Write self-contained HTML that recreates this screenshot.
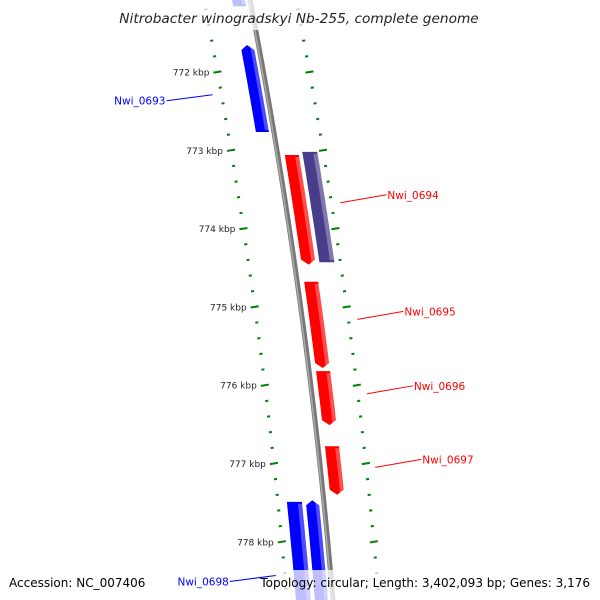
<!DOCTYPE html>
<html><head><meta charset="utf-8">
<style>
html,body{margin:0;padding:0;background:#fff;}
svg{display:block;font-family:"DejaVu Sans","Liberation Sans",sans-serif;}
</style></head>
<body>
<svg id="map" width="600" height="600" viewBox="0 0 600 600" xmlns="http://www.w3.org/2000/svg">
<g id="ticks"></g>
<g id="backbone"></g>
<g id="features"></g>
<rect x="0" y="0" width="600" height="30" fill="#fff" fill-opacity="0.75"/>
<text x="299" y="23" text-anchor="middle" font-size="13.7" font-style="italic" fill="#222">Nitrobacter winogradskyi Nb-255, complete genome</text>
<rect x="0" y="570" width="600" height="30" fill="#fff" fill-opacity="0.75"/>
<text x="9" y="587" font-size="12" fill="#000">Accession: NC_007406</text>
<text x="590" y="587" text-anchor="end" font-size="12" fill="#000">Topology: circular; Length: 3,402,093 bp; Genes: 3,176</text>
<g id="labels"></g>
</svg>
<script>
const featNames = ["top-gene","Nwi_0693","Nwi_0694a","Nwi_0694","Nwi_0695","Nwi_0696","Nwi_0697","Nwi_0698a","Nwi_0698"];
const featStart = [770.8,771.655,773.06,773.02,774.68,775.82,776.78,777.49,777.47];
const featEnd   = [771.16,772.766,774.46,774.43,775.78,776.51,777.40,778.95,778.95];
const featStrand= [-1,-1,1,1,1,1,1,-1,-1];
const featLane  = [1,1,1,2,1,1,1,2,1];
const featColor = ["#0000ff","#0000ff","#ff0000","#483d8b","#ff0000","#ff0000","#ff0000","#0000ff","#0000ff"];
const featArrow = ["none","up","down","none","down","down","down","none","up"];
const labelNames = ["Nwi_0693","Nwi_0694","Nwi_0695","Nwi_0696","Nwi_0697","Nwi_0698"];
const labelKbp   = [772.29,773.67,775.16,776.11,777.05,778.43];
const labelSide  = [-1,1,1,1,1,-1];
const labelColor = ["#0000ff","#ff0000","#ff0000","#ff0000","#ff0000","#0000ff"];
const majorTicks = [772,773,774,775,776,777,778];

const NS="http://www.w3.org/2000/svg";
function yOf(k){return 72+(k-772)*78.3;}
function bx(y){return 250+0.1934*y-0.000092*y*y;}
function mk(tag,attrs,parent){const e=document.createElementNS(NS,tag);for(const k in attrs)e.setAttribute(k,attrs[k]);parent.appendChild(e);return e;}

const bb=document.getElementById('backbone');
let d="";for(let y=-5;y<=605;y+=5){d+=(y===-5?"M":"L")+(bx(y)).toFixed(2)+","+y;}
const b1=mk('path',{d:d,stroke:"#777",'stroke-width':5,fill:"none"},bb);


let d2="";for(let y=-5;y<=605;y+=5){d2+=(y===-5?"M":"L")+(bx(y)-1).toFixed(2)+","+y;}
mk('path',{d:d2,stroke:"#aaa",'stroke-width':1.5,fill:"none"},bb);

const tg=document.getElementById('ticks');
for(let i=0;i<=40;i++){
  const k=770.8+i*0.2; const y=yOf(k); const x=bx(y);
  const isMaj=Math.abs(k-Math.round(k))<0.01;
  const len=isMaj?8:3;
  for(const s of [-1,1]){
    const cx=x+s*46;
    const t=mk('line',{x1:cx-len/2,y1:y+len*0.08,x2:cx+len/2,y2:y-len*0.08,stroke:"#008000",'stroke-width':2},tg);
    
    
  }
}
majorTicks.forEach(k=>{
  const y=yOf(k),x=bx(y);
  const t=mk('text',{x:x-46-8,y:y+3.5,'text-anchor':"end",'font-size':9,fill:"#222"},tg);
  t.textContent=k+" kbp";
  
  
});

const fg=document.getElementById('features');
function lanes(strand,lane){
  if(strand<0){return lane===1?[-18,-5]:[-37,-22];}
  return lane===1?[7,21]:[25,40];
}
function poly(y1,y2,lo,hi,arrow){
  const pts=[];
  const yt=arrow==="up"?y1+5:y1, yb=arrow==="down"?y2-5:y2;
  const n=10;
  for(let i=0;i<=n;i++){const y=yt+(yb-yt)*i/n;pts.push([bx(y)+hi,y]);}
  if(arrow==="down"){const y=y2;pts.push([bx(y)+(lo+hi)/2,y]);}
  for(let i=n;i>=0;i--){const y=yt+(yb-yt)*i/n;pts.push([bx(y)+lo,y]);}
  if(arrow==="up"){pts.push([bx(y1)+(lo+hi)/2,y1]);}
  return pts.map(p=>p[0].toFixed(1)+","+p[1].toFixed(1)).join(" ");
}
featNames.forEach((nm,i)=>{
  const y1=yOf(featStart[i]),y2=yOf(featEnd[i]);
  const [lo,hi]=lanes(featStrand[i],featLane[i]);
  const p=mk('polygon',{points:poly(y1,y2,lo,hi,featArrow[i]),fill:featColor[i]},fg);
  
  
  const w=hi-lo;
  mk('polygon',{points:poly(y1+2,y2-2,hi-w*0.28,hi,"none"),fill:"#fff",'fill-opacity':0.3},fg);
});

const lg=document.getElementById('labels');
labelNames.forEach((nm,i)=>{
  const y=yOf(labelKbp[i]),x=bx(y);
  const s=labelSide[i];
  const x1=x+s*55, x2=x+s*101;
  const ye=s>0?y-8:y+6;
  const l=mk('line',{x1:x1,y1:y,x2:x2,y2:ye,stroke:labelColor[i],'stroke-width':1},lg);
  
  
  const t=mk('text',{x:s>0?x2+1:x2-1,y:ye+4,'text-anchor':s>0?"start":"end",'font-size':10.5,fill:labelColor[i]},lg);
  t.textContent=nm;
  
  
});
</script>
</body></html>
